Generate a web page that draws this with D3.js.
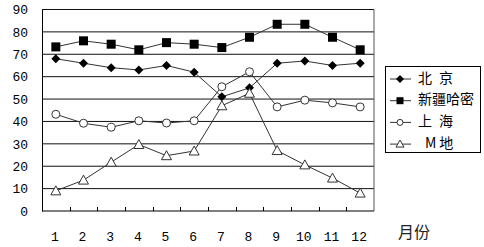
<!DOCTYPE html>
<html>
<head>
<meta charset="utf-8">
<script src="https://cdn.jsdelivr.net/npm/d3@7"></script>
<style>
  body { margin: 0; background: #fff; }
  svg { display: block; }
</style>
</head>
<body>
<svg id="chart" width="484" height="247"></svg>
<script>
// months on the x axis
const months = ['1', '2', '3', '4', '5', '6', '7', '8', '9', '10', '11', '12']
const yTicks = [0, 10, 20, 30, 40, 50, 60, 70, 80, 90]

const beijing = [68, 66, 64, 63, 65, 62, 51, 55, 66, 67, 65, 66]
const hami = [73.3, 76, 74.5, 72, 75.2, 74.5, 73, 77.6, 83.4, 83.4, 77.6, 72]
const shanghai = [43.2, 39.2, 37.4, 40.3, 39.3, 40.3, 55.5, 62.2, 46.5, 49.5, 48.3, 46.5]
const mdi = [9, 13.8, 21.8, 29.7, 24.7, 26.8, 47, 52.6, 27, 20.6, 14.7, 8]

// wide spaces, since plain spaces collapse in svg text
const seriesNames = ['北\u2002京', '新疆哈密', '上\u2002海', '\u2002M\u2009地']

let series = [
    {name: seriesNames[0], values: beijing, shape: 'diamond', fill: '#000'},
    {name: seriesNames[1], values: hami, shape: 'square', fill: '#000'},
    {name: seriesNames[2], values: shanghai, shape: 'circle', fill: '#fff'},
    {name: seriesNames[3], values: mdi, shape: 'triangle', fill: '#fff'}
]

const svg = d3.select('#chart')
const plotLeft = 42, plotRight = 374, plotTop = 9.5, plotBottom = 211

let x = d3.scaleBand().domain(months).range([plotLeft, plotRight])
let y = d3.scaleLinear().domain([0, 90]).range([plotBottom, plotTop])

// grid lines
svg.selectAll('line.grid')
.data(yTicks.filter(d => d > 0))
.enter()
.append('line')
.attr('class', 'grid')
.attr('x1', plotLeft)
.attr('x2', plotRight)
.attr('y1', d => y(d))
.attr('y2', d => y(d))
.attr('stroke', '#111')
.attr('stroke-width', 1)

// plot frame (right side)
svg.append('line')
.attr('x1', plotRight).attr('x2', plotRight)
.attr('y1', plotTop).attr('y2', plotBottom)
.attr('stroke', '#555')

// y axis
let yAxis = d3.axisLeft(y).tickValues(yTicks).tickSize(0).tickPadding(14)
let gy = svg.append('g').attr('transform', `translate(${plotLeft},0)`).call(yAxis)
gy.select('.domain').attr('stroke', '#000')
gy.selectAll('text')
.attr('font-family', '"Liberation Mono", "DejaVu Sans Mono", monospace')
.attr('font-size', 13)
.attr('fill', '#000')

// x axis: ticks at band boundaries, pointing up
let gx = svg.append('g').attr('transform', `translate(0,${plotBottom})`)
gx.append('line')
.attr('x1', plotLeft).attr('x2', plotRight)
.attr('stroke', '#000')
gx.selectAll('line.tick')
.data(months.slice(1))
.enter()
.append('line')
.attr('class', 'tick')
.attr('x1', d => Math.round(x(d)) + 0.5)
.attr('x2', d => Math.round(x(d)) + 0.5)
.attr('y1', -4)
.attr('y2', 0)
.attr('stroke', '#000')
gx.selectAll('text')
.data(months)
.enter()
.append('text')
.attr('x', d => x(d) + x.bandwidth() / 2 - 1)
.attr('y', 27)
.attr('text-anchor', 'middle')
.attr('dominant-baseline', 'middle')
.attr('font-family', '"Liberation Mono", "DejaVu Sans Mono", monospace')
.attr('font-size', 13)
.text(d => d)

svg.append('text')
.attr('x', 398)
.attr('y', 238)
.attr('font-family', '"Noto Sans CJK SC", sans-serif')
.attr('font-size', 16)
.attr('fill', '#222')
.text('月份')

function drawMarker(g, shape, fill, cx, cy) {
    if (shape == 'diamond') {
        g.append('path')
        .attr('d', `M${cx},${cy - 4.5}L${cx + 4.5},${cy}L${cx},${cy + 4.5}L${cx - 4.5},${cy}Z`)
        .attr('fill', fill)
    } else if (shape == 'square') {
        g.append('rect')
        .attr('x', cx - 4.5).attr('y', cy - 4.5)
        .attr('width', 9).attr('height', 9)
        .attr('fill', fill)
    } else if (shape == 'circle') {
        g.append('circle')
        .attr('cx', cx).attr('cy', cy).attr('r', 4)
        .attr('fill', fill).attr('stroke', '#333')
    } else {
        g.append('path')
        .attr('d', `M${cx},${cy - 5}L${cx + 5},${cy + 4}L${cx - 5},${cy + 4}Z`)
        .attr('fill', fill).attr('stroke', '#333')
    }
}

let line = d3.line()
.x((d, i) => x(months[i]) + x.bandwidth() / 2)
.y(d => y(d))

series.forEach(s => {
    let g = svg.append('g')
    g.append('path')
    .attr('d', line(s.values))
    .attr('fill', 'none')
    .attr('stroke', '#333')
    .attr('stroke-width', 1)
    s.values.forEach((v, i) => {
        drawMarker(g, s.shape, s.fill, x(months[i]) + x.bandwidth() / 2, y(v))
    })
})

// legend
let lg = svg.append('g')
lg.append('rect')
.attr('x', 385.5).attr('y', 66.5)
.attr('width', 95).attr('height', 86)
.attr('fill', '#fff')
.attr('stroke', '#000')

series.forEach((s, i) => {
    let ly = 79 + i * 21.7
    lg.append('line')
    .attr('x1', 390).attr('x2', 411)
    .attr('y1', ly).attr('y2', ly)
    .attr('stroke', '#333')
    let sym = lg.append('g')
    if (s.shape == 'circle') {
        sym.append('circle').attr('cx', 400).attr('cy', ly).attr('r', 3)
        .attr('fill', '#fff').attr('stroke', '#333')
    } else if (s.shape == 'triangle') {
        sym.append('path')
        .attr('d', `M400,${ly - 4}L404,${ly + 3}L396,${ly + 3}Z`)
        .attr('fill', '#fff').attr('stroke', '#333')
    } else if (s.shape == 'square') {
        sym.append('rect').attr('x', 396.5).attr('y', ly - 3.5)
        .attr('width', 7).attr('height', 7).attr('fill', '#000')
    } else {
        sym.append('path')
        .attr('d', `M400,${ly - 4}L404,${ly}L400,${ly + 4}L396,${ly}Z`)
        .attr('fill', '#000')
    }
    lg.append('text')
    .attr('x', 418)
    .attr('y', ly)
    .attr('dominant-baseline', 'middle')
    .attr('font-family', '"Noto Sans CJK SC", sans-serif')
    .attr('font-size', 14)
    .text(s.name)
})
</script>
</body>
</html>
